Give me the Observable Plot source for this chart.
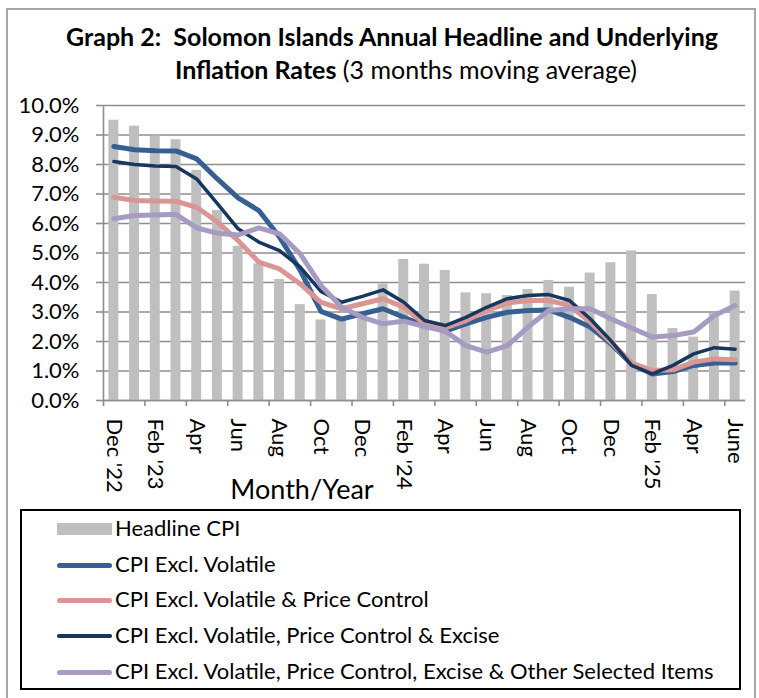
<!DOCTYPE html>
<html>
<head>
<meta charset="utf-8">
<script src="https://cdn.jsdelivr.net/npm/d3@7"></script>
<script src="https://cdn.jsdelivr.net/npm/@observablehq/plot@0.6"></script>
<style>
  html, body { margin: 0; padding: 0; background: #fff; }
  #wrap { position: relative; width: 759px; height: 698px; overflow: hidden; font-family: Lato, "Open Sans", sans-serif; color: #000; }
  #frame { position: absolute; left: 6px; top: 8px; width: 746px; height: 720px; border: 2px solid #a6a6a6; }
  .t { position: absolute; white-space: nowrap; text-align: center; font-size: 25px; line-height: 1; }
  #chart { position: absolute; left: 0; top: 90px; }
  #xlab { position: absolute; left: 202px; width: 200px; top: 475px; text-align: center; font-size: 27px; line-height: 1; }
  #legend { position: absolute; left: 20px; top: 509px; width: 717px; height: 177px; border: 2px solid #000; }
  .li { position: absolute; left: 93px; font-size: 22px; line-height: 1; white-space: nowrap; }
  .sw { position: absolute; left: 35px; width: 55px; }
</style>
</head>
<body>
<div id="wrap">
  <div id="frame"></div>
  <div class="t" style="left:-8px;width:800px;top:24px;font-weight:bold;">Graph 2:&nbsp; Solomon Islands Annual Headline and Underlying</div>
  <div class="t" style="left:6px;width:800px;top:57px;"><b>Inflation Rates</b> (3 months moving average)</div>
  <div id="chart"></div>
  <div id="xlab">Month/Year</div>
  <div id="legend"></div>
</div>
<script>
// ---- data ----
const months = ["Dec-22","Jan-23","Feb-23","Mar-23","Apr-23","May-23","Jun-23","Jul-23","Aug-23","Sep-23","Oct-23","Nov-23","Dec-23","Jan-24","Feb-24","Mar-24","Apr-24","May-24","Jun-24","Jul-24","Aug-24","Sep-24","Oct-24","Nov-24","Dec-24","Jan-25","Feb-25","Mar-25","Apr-25","May-25","Jun-25"];
const tickLabels = ["Dec '22","Feb '23","Apr","Jun","Aug","Oct","Dec","Feb '24","Apr","Jun","Aug","Oct","Dec","Feb '25","Apr","June"];
const yTicks = [0,1,2,3,4,5,6,7,8,9,10];
const seriesNames = ["Headline CPI","CPI Excl. Volatile","CPI Excl. Volatile & Price Control","CPI Excl. Volatile, Price Control & Excise","CPI Excl. Volatile, Price Control, Excise & Other Selected Items"];
const headline = [9.50,9.30,8.96,8.84,7.80,6.44,5.23,4.63,4.10,3.25,2.73,2.80,3.00,3.95,4.78,4.62,4.41,3.65,3.62,3.56,3.76,4.07,3.84,4.32,4.67,5.07,3.59,2.44,2.15,2.95,3.71];
const exVolatile = [8.61,8.50,8.47,8.46,8.19,7.51,6.87,6.44,5.54,4.41,3.02,2.76,2.94,3.11,2.82,2.54,2.35,2.60,2.82,2.99,3.05,3.07,2.82,2.49,1.92,1.24,0.90,0.98,1.19,1.27,1.27];
const exVolPC = [6.89,6.78,6.76,6.75,6.55,6.05,5.42,4.69,4.46,3.95,3.33,3.11,3.28,3.45,3.16,2.60,2.46,2.71,3.05,3.30,3.39,3.39,3.22,2.66,1.98,1.27,1.02,1.04,1.30,1.41,1.38];
const exVolPCExcise = [8.10,8.00,7.95,7.93,7.51,6.67,5.82,5.37,5.08,4.52,3.70,3.33,3.53,3.75,3.33,2.71,2.54,2.82,3.16,3.45,3.56,3.59,3.39,2.77,2.03,1.19,0.90,1.19,1.58,1.79,1.74];
const exAll = [6.16,6.27,6.29,6.31,5.85,5.67,5.61,5.85,5.65,4.97,3.90,3.16,2.82,2.60,2.69,2.51,2.35,1.86,1.64,1.86,2.49,3.05,3.11,3.11,2.77,2.46,2.15,2.20,2.32,2.88,3.22];

const colors = ["#bfbfbf","#376092","#d99694","#17375e","#a79ac3"];
const widths = [0, 5, 5, 3.5, 5];

// ---- build ----
const n = months.length;
const rows = months.map((m, i) => ({i, m, headline: headline[i]}));
const lineSeries = [exVolatile, exVolPC, exVolPCExcise, exAll];
const lineRows = lineSeries.map((arr, s) => arr.map((v, i) => ({i, v, s: s + 1})));
const boundaries = d3.range(0, n, 2).map(k => k - 0.5);
const labelIdx = d3.range(0, n, 2);
const gridCol = "#8e8e8e";

const plot = Plot.plot({
  width: 759,
  height: 415,
  marginLeft: 103,
  marginRight: 14,
  marginTop: 15,
  marginBottom: 105,
  style: {fontFamily: "Lato, 'Open Sans', sans-serif", fontSize: "22px", color: "#000", background: "transparent", overflow: "visible"},
  x: {domain: [-0.5, n - 0.5], axis: null},
  y: {domain: [0, 10], axis: null},
  marks: [
    Plot.ruleY(yTicks, {stroke: gridCol, strokeWidth: 1.6}),
    Plot.rectY(rows, {x1: d => d.i - 0.24, x2: d => d.i + 0.24, y: "headline", fill: colors[0]}),
    ...lineRows.map((data, k) => Plot.line(data, {x: "i", y: "v", stroke: colors[k + 1], strokeWidth: widths[k + 1], strokeLinejoin: "round", strokeLinecap: "round"})),
    Plot.ruleX([-0.5], {stroke: gridCol, strokeWidth: 1.6}),
    Plot.ruleY([0], {stroke: gridCol, strokeWidth: 1.6}),
    Plot.axisY({ticks: yTicks, tickFormat: d => d.toFixed(1) + "%", tickSize: 7, tickPadding: 17, stroke: gridCol, strokeWidth: 1.6, fill: "#000", fontSize: 22, label: null}),
    Plot.axisX({ticks: boundaries, tickFormat: () => "", tickSize: 6, stroke: gridCol, strokeWidth: 1.6, label: null}),
    Plot.axisX({ticks: labelIdx, tickFormat: i => tickLabels[i / 2], tickSize: 0, tickPadding: 18, tickRotate: 90, fill: "#000", fontSize: 22, label: null})
  ]
});
document.getElementById("chart").appendChild(plot);

// ---- legend ----
const legend = document.getElementById("legend");
const rowTops = [18, 54, 89, 125, 161];
seriesNames.forEach((name, k) => {
  const cy = rowTops[k];
  const sw = document.createElement("div");
  sw.className = "sw";
  if (k === 0) {
    sw.style.top = (cy - 6) + "px"; sw.style.height = "12px"; sw.style.background = colors[0];
  } else {
    const h = widths[k];
    sw.style.top = (cy - h / 2) + "px"; sw.style.height = h + "px"; sw.style.background = colors[k]; sw.style.borderRadius = (h / 2) + "px";
  }
  legend.appendChild(sw);
  const t = document.createElement("div");
  t.className = "li";
  t.style.top = (cy - 12) + "px";
  t.textContent = name;
  legend.appendChild(t);
});
</script>
</body>
</html>
